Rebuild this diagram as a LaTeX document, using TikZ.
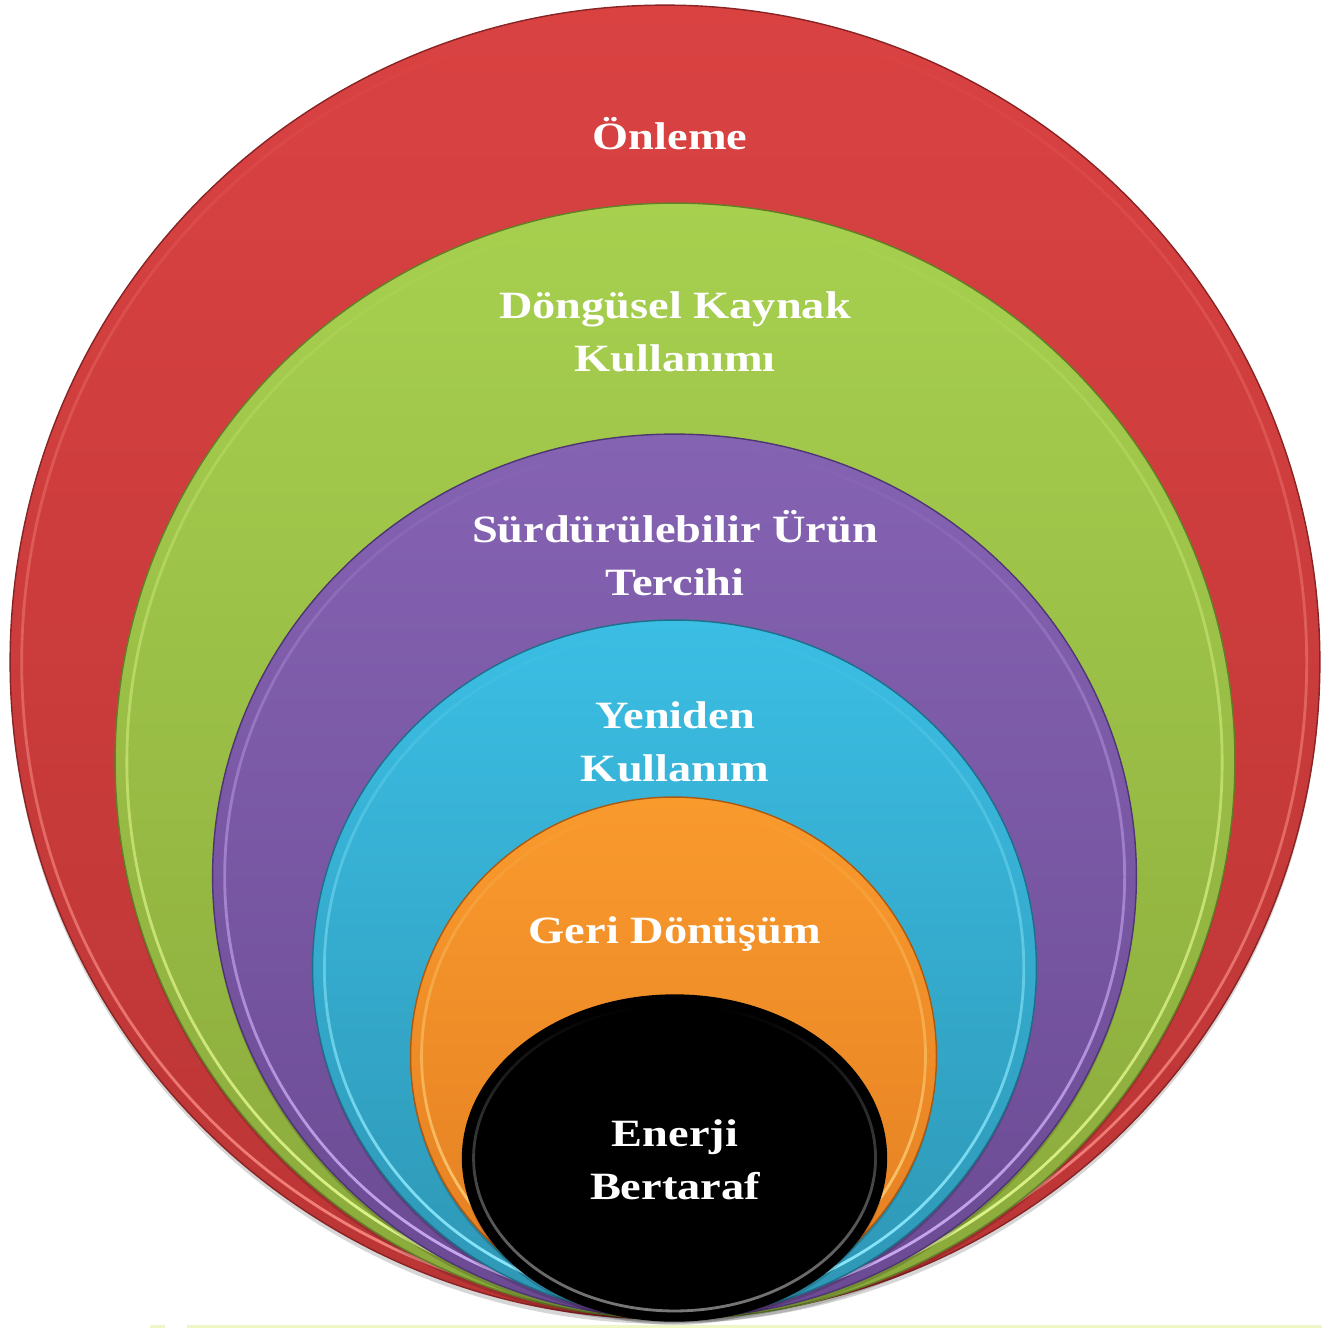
\documentclass[tikz,border=0pt]{standalone}
\usepackage{fontspec}
\setmainfont{Liberation Serif}[FakeStretch=1.2]
\usetikzlibrary{fadings}
\definecolor{redT}{HTML}{DA4242}
\definecolor{redB}{HTML}{BB3535}
\definecolor{redD}{HTML}{8A2324}
\definecolor{redL}{HTML}{F58680}
\definecolor{greenT}{HTML}{A7D04F}
\definecolor{greenB}{HTML}{8AA93B}
\definecolor{greenD}{HTML}{627F27}
\definecolor{greenL}{HTML}{E2F890}
\definecolor{purpleT}{HTML}{8563B3}
\definecolor{purpleB}{HTML}{6B4A93}
\definecolor{purpleD}{HTML}{4E3574}
\definecolor{purpleL}{HTML}{CDAEF5}
\definecolor{cyanT}{HTML}{3BBEE4}
\definecolor{cyanB}{HTML}{2E96B4}
\definecolor{cyanD}{HTML}{1E6F8A}
\definecolor{cyanL}{HTML}{8EEBFF}
\definecolor{orangeT}{HTML}{F99A2D}
\definecolor{orangeB}{HTML}{E37E22}
\definecolor{orangeD}{HTML}{A95A10}
\definecolor{orangeL}{HTML}{FFD57E}
\definecolor{blackL}{HTML}{7A7A7A}
\definecolor{floorline}{HTML}{EDF8C6}
\begin{document}
\begin{tikzpicture}[x=0.02cm,y=-0.02cm]
\tikzset{
  shadowfill/.style={fill=black, opacity=0.16},
  layer/.style n args={3}{top color=#1, bottom color=#2, draw=#3, line width=0.8pt},
  rim/.style={draw=#1, line width=1.6pt, path fading=north},
  lbl/.style={text=white, font=\bfseries\fontsize{22}{30}\selectfont, align=center, inner sep=0pt}
}
\useasboundingbox (0,0) rectangle (1322,1328);
\fill[white] (0,0) rectangle (1322,1328);
\fill[floorline] (187,1325) rectangle (1322,1328);
\fill[floorline] (150,1325) rectangle (165,1328);

% Onleme (red)
\fill[shadowfill] (665,667) ellipse [x radius=13.1cm, y radius=13.14cm];
\path[layer={redT}{redB}{redD}] (665,662) ellipse [x radius=13.1cm, y radius=13.14cm];
\draw[rim=redL] (665,662) ellipse [x radius=12.86cm, y radius=12.92cm];

% Dongusel (green)
\fill[shadowfill] (675,765) ellipse [x radius=11.2cm, y radius=11.16cm];
\path[layer={greenT}{greenB}{greenD}] (675,761) ellipse [x radius=11.2cm, y radius=11.16cm];
\draw[rim=greenL] (675,761) ellipse [x radius=10.96cm, y radius=10.94cm];

% Surdurulebilir (purple)
\fill[shadowfill] (674.5,880) ellipse [x radius=9.24cm, y radius=8.84cm];
\path[layer={purpleT}{purpleB}{purpleD}] (674.5,876) ellipse [x radius=9.24cm, y radius=8.84cm];
\draw[rim=purpleL] (674.5,876) ellipse [x radius=9.0cm, y radius=8.62cm];

% Yeniden (cyan)
\fill[shadowfill] (674.5,972) ellipse [x radius=7.24cm, y radius=6.96cm];
\path[layer={cyanT}{cyanB}{cyanD}] (674.5,968) ellipse [x radius=7.24cm, y radius=6.96cm];
\draw[rim=cyanL] (674.5,968) ellipse [x radius=7.0cm, y radius=6.74cm];

% Geri Donusum (orange)
\fill[shadowfill] (673.5,1060) ellipse [x radius=5.26cm, y radius=5.18cm];
\path[layer={orangeT}{orangeB}{orangeD}] (673.5,1056) ellipse [x radius=5.26cm, y radius=5.18cm];
\draw[rim=orangeL] (673.5,1056) ellipse [x radius=5.04cm, y radius=4.98cm];

% Enerji (black)
\fill[shadowfill] (674.5,1162) ellipse [x radius=4.24cm, y radius=3.26cm];
\path[layer={black}{black}{black}] (674.5,1158) ellipse [x radius=4.24cm, y radius=3.26cm];
\draw[rim=blackL] (674.5,1158) ellipse [x radius=4.02cm, y radius=3.06cm];

\node[lbl, anchor=base] (t1) at (670,150) {Önleme};
\node[lbl] (t2) at (675,332) {Döngüsel Kaynak\\Kullanımı};
\node[lbl] (t3) at (675,553) {Sürdürülebilir Ürün\\Tercihi};
\node[lbl] (t4) at (675,742) {Yeniden\\Kullanım};
\node[lbl, anchor=base] (t5) at (675,943) {Geri Dönüşüm};
\node[lbl] (t6) at (675,1160) {Enerji\\Bertaraf};
\end{tikzpicture}
\end{document}
